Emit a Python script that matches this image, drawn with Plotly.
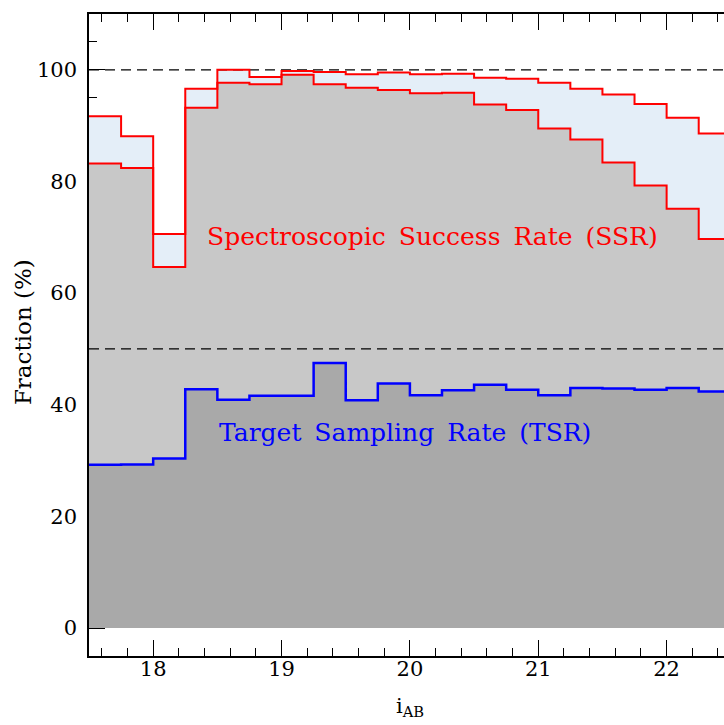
import plotly.graph_objects as go

# magnitude bins (left edges) and the closing edge of the last bin
bin_edges = [17.5, 17.75, 18.0, 18.25, 18.5, 18.75, 19.0, 19.25, 19.5, 19.75,
             20.0, 20.25, 20.5, 20.75, 21.0, 21.25, 21.5, 21.75, 22.0, 22.25, 22.5]

# spectroscopic success rate: upper and lower envelopes (%)
ssr_hi = [91.7, 88.1, 70.6, 96.6, 100.0, 98.7, 99.8, 99.6, 99.2, 99.5,
          99.2, 99.3, 98.6, 98.4, 97.7, 96.6, 95.6, 93.9, 91.4, 88.6]
ssr_lo = [83.2, 82.4, 64.7, 93.2, 97.7, 97.4, 99.1, 97.4, 96.8, 96.4,
          95.8, 95.9, 93.8, 92.8, 89.5, 87.5, 83.4, 79.3, 75.1, 69.7]

# target sampling rate (%)
tsr = [29.25, 29.3, 30.4, 42.8, 40.9, 41.6, 41.6, 47.5, 40.8, 43.8,
       41.7, 42.6, 43.6, 42.7, 41.7, 43.0, 42.9, 42.7, 43.0, 42.4]

ref_levels = [50, 100]

FONT = "DejaVu Serif"
WIDE = " \u2009"  # slightly wider word gap for the in-plot labels


def steps(vals):
    # repeat the last value so the final bin is closed at its right edge
    return list(vals) + [vals[-1]]


fig = go.Figure()

fills = [(ssr_hi, "#E4EEF8"), (ssr_lo, "#C8C8C8"), (tsr, "#A9A9A9")]
for vals, col in fills:
    fig.add_trace(go.Scatter(
        x=bin_edges, y=steps(vals), mode="lines", line_shape="hv",
        line=dict(width=0), fill="tozeroy", fillcolor=col,
        hoverinfo="skip", showlegend=False))

for lvl in ref_levels:
    fig.add_trace(go.Scatter(
        x=[bin_edges[0], bin_edges[-1]], y=[lvl, lvl], mode="lines",
        line=dict(color="black", width=1.2, dash="10px,6px"),
        hoverinfo="skip", showlegend=False))

for vals, col, w in [(ssr_hi, "#FF0000", 2), (ssr_lo, "#FF0000", 2), (tsr, "#0000FF", 2.5)]:
    fig.add_trace(go.Scatter(
        x=bin_edges, y=steps(vals), mode="lines", line_shape="hv",
        line=dict(color=col, width=w), showlegend=False))

fig.add_annotation(x=18.4, y=70.2, xref="x", yref="y", xanchor="left", yanchor="middle",
                   text=WIDE.join("Spectroscopic Success Rate (SSR)".split(" ")), showarrow=False,
                   font=dict(family=FONT, size=25, color="#FF0000"))
fig.add_annotation(x=18.5, y=35.1, xref="x", yref="y", xanchor="left", yanchor="middle",
                   text=WIDE.join("Target Sampling Rate (TSR)".split(" ")), showarrow=False,
                   font=dict(family=FONT, size=25, color="#0000FF"))

# axis titles
fig.add_annotation(x=-0.105, y=0.505, xref="paper", yref="paper", xanchor="center", yanchor="middle",
                   text="Fraction (%)", textangle=-90, showarrow=False,
                   font=dict(family=FONT, size=23, color="black"))
fig.add_annotation(x=0.505, y=-0.056, xref="paper", yref="paper", xanchor="center", yanchor="top",
                   text="i<sub>AB</sub>", showarrow=False,
                   font=dict(family=FONT, size=21, color="black"))

fig.update_xaxes(
    range=[17.5, 22.447], showgrid=False, zeroline=False,
    showline=True, linecolor="black", linewidth=1.5, mirror="ticks",
    ticks="inside", ticklen=16, tickwidth=1, tickcolor="black",
    tickmode="linear", tick0=18, dtick=1,
    minor=dict(ticks="inside", ticklen=8, tickwidth=1, tickcolor="black", dtick=0.2, tick0=18),
    tickfont=dict(family=FONT, size=21, color="black"),
    ticklabelstandoff=-7, layer="below traces")

fig.update_yaxes(
    range=[-5, 110], showgrid=False, zeroline=False,
    showline=True, linecolor="black", linewidth=1.5, mirror=False,
    ticks="inside", ticklen=16, tickwidth=1, tickcolor="black",
    tickmode="linear", tick0=0, dtick=20,
    minor=dict(ticks="inside", ticklen=8, tickwidth=1, tickcolor="black", dtick=5, tick0=0),
    tickfont=dict(family=FONT, size=21, color="black"),
    ticklabelstandoff=6, layer="below traces")

fig.update_layout(
    width=724, height=725,
    margin=dict(l=89, r=0, t=14, b=69),
    plot_bgcolor="white", paper_bgcolor="white",
    font=dict(family=FONT),
)

fig.write_html("out.html")
